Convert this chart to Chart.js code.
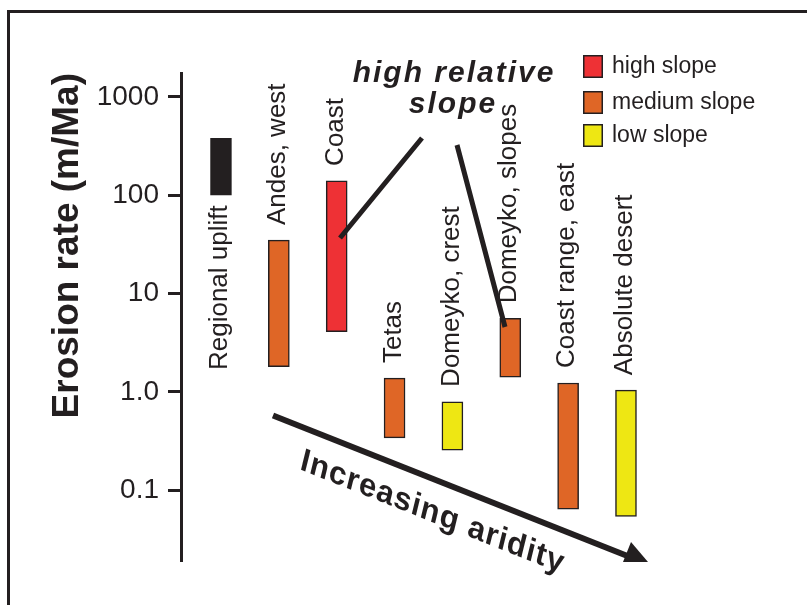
<!DOCTYPE html>
<html>
<head>
<meta charset="utf-8">
<script src="https://cdn.jsdelivr.net/npm/chart.js@4.4.1/dist/chart.umd.min.js"></script>
<style>
  html, body { margin: 0; padding: 0; background: #fff; overflow: hidden; }
  #wrap { position: relative; width: 807px; height: 605px; overflow: hidden; }
  #frame { position: absolute; left: 7px; top: 10px; width: 900px; height: 700px; border: 3px solid #231f20; }
  canvas { position: absolute; left: 0; top: 0; }
</style>
</head>
<body>
<div id="wrap">
  <div id="frame"></div>
  <canvas id="chart" width="807" height="605"></canvas>
</div>
<script>
// data
const sites = ["Regional uplift", "Andes, west", "Coast", "Tetas", "Domeyko, crest", "Domeyko, slopes", "Coast range, east", "Absolute desert"];
const rateLow = [100, 1.8, 4.1, 0.34, 0.255, 1.41, 0.064, 0.054];
const rateHigh = [380, 35, 140, 1.38, 0.79, 5.6, 1.23, 1.04];
const slopeClass = ["uplift", "medium", "high", "medium", "low", "medium", "medium", "low"];

const tickValues = [0.1, 1, 10, 100, 1000];
const tickLabels = ["0.1", "1.0", "10", "100", "1000"];

const legendKeys = ["high", "medium", "low"];
const legendLabels = ["high slope", "medium slope", "low slope"];

const ink = '#231f20';
const slopeColors = { uplift: ink, high: '#ee3135', medium: '#df6626', low: '#eee713' };
const FONT = '"Liberation Sans", Arial, Helvetica, sans-serif';

// labels, legend, callouts and arrow
const annotations = {
  id: 'annotations',
  afterDatasetsDraw(chart) {
    const ctx = chart.ctx;
    const meta = chart.getDatasetMeta(0);
    ctx.save();
    ctx.fillStyle = ink;
    ctx.strokeStyle = ink;

    // site names, rotated
    ctx.font = '26px ' + FONT;
    ctx.textBaseline = 'middle';
    meta.data.forEach((bar, i) => {
      const top = Math.min(bar.y, bar.base);
      const bottom = Math.max(bar.y, bar.base);
      ctx.save();
      if (slopeClass[i] === 'uplift') {
        ctx.translate(bar.x - 1, bottom + 10);
        ctx.textAlign = 'right';
      } else {
        ctx.translate(bar.x - 1, top - 15);
        ctx.textAlign = 'left';
      }
      ctx.rotate(-Math.PI / 2);
      ctx.fillText(sites[i], 0, 0);
      ctx.restore();
    });

    // legend
    ctx.font = '23px ' + FONT;
    ctx.textAlign = 'left';
    ctx.textBaseline = 'alphabetic';
    const legTop = [55, 91, 124];
    legendKeys.forEach((k, i) => {
      ctx.fillStyle = slopeColors[k];
      ctx.fillRect(583, legTop[i], 20, 23);
      ctx.lineWidth = 1.5;
      ctx.strokeRect(583.75, legTop[i] + 0.75, 18.5, 21.5);
      ctx.fillStyle = ink;
      ctx.fillText(legendLabels[i], 612, legTop[i] + 18);
    });

    // callout
    ctx.font = 'italic bold 30px ' + FONT;
    ctx.letterSpacing = '2px';
    ctx.textAlign = 'center';
    ctx.fillText('high relative', 454, 82);
    ctx.fillText('slope', 453, 113);
    ctx.letterSpacing = '0px';

    ctx.lineWidth = 5;
    ctx.beginPath();
    ctx.moveTo(422, 138); ctx.lineTo(340, 238);
    ctx.moveTo(457, 145); ctx.lineTo(505, 327);
    ctx.stroke();

    // aridity arrow
    ctx.lineWidth = 6;
    ctx.beginPath();
    ctx.moveTo(273, 415.5); ctx.lineTo(630, 557);
    ctx.stroke();
    ctx.beginPath();
    ctx.moveTo(648, 562); ctx.lineTo(623, 562); ctx.lineTo(631, 542);
    ctx.closePath();
    ctx.fill();

    ctx.save();
    const a = 21.7 * Math.PI / 180, s = 13.8 * Math.PI / 180;
    ctx.transform(Math.cos(a), Math.sin(a), -Math.sin(s), Math.cos(s), 299, 469);
    ctx.font = 'bold 32px ' + FONT;
    ctx.letterSpacing = '1px';
    ctx.textAlign = 'left';
    ctx.fillText('Increasing aridity', 0, 0);
    ctx.restore();

    ctx.restore();
  }
};

const ctx = document.getElementById('chart').getContext('2d');
const chart = new Chart(ctx, {
  type: 'bar',
  data: {
    datasets: [{
      data: sites.map((s, i) => ({ x: i, y: [rateLow[i], rateHigh[i]] })),
      backgroundColor: slopeClass.map(c => slopeColors[c]),
      borderColor: ink,
      borderWidth: 1.5,
      borderSkipped: false,
      barThickness: 21
    }]
  },
  options: {
    responsive: false,
    animation: false,
    layout: { padding: { left: 0, top: 73, right: 65.3, bottom: 44 } },
    plugins: {
      legend: { display: false },
      tooltip: { enabled: false }
    },
    scales: {
      x: {
        type: 'linear',
        min: -0.691,
        max: 9,
        offset: false,
        display: false
      },
      y: {
        type: 'logarithmic',
        min: 0.019,
        max: 1753,
        afterBuildTicks: (scale) => { scale.ticks = tickValues.map(v => ({ value: v })); },
        afterFit: (scale) => { scale.width = 181; },
        ticks: {
          autoSkip: false,
          padding: 9,
          color: ink,
          font: { family: FONT, size: 28 },
          callback: (value, index) => tickLabels[index]
        },
        grid: {
          drawOnChartArea: false,
          drawTicks: true,
          tickLength: 13,
          tickWidth: 3,
          tickColor: ink
        },
        border: { display: true, color: ink, width: 3 },
        title: {
          display: true,
          text: 'Erosion rate (m/Ma)',
          align: 'end',
          color: ink,
          font: { family: FONT, size: 37, weight: 'bold', lineHeight: 1.2 },
          padding: { top: 46, bottom: 0 }
        }
      }
    }
  },
  plugins: [annotations]
});
</script>
</body>
</html>
